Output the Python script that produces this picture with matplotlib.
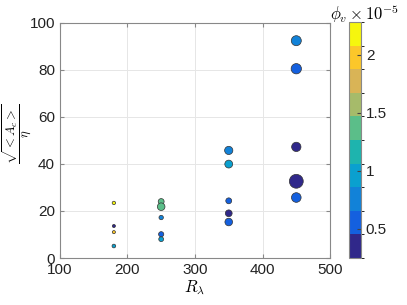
import numpy as np
import matplotlib.pyplot as plt
from matplotlib.colors import ListedColormap, BoundaryNorm

plt.rcParams['font.family'] = ['Liberation Sans', 'DejaVu Sans']
plt.rcParams['mathtext.fontset'] = 'cm'

# data
R_lambda = [180, 180, 180, 180,
            250, 250, 250, 250, 250,
            350, 350, 350, 350, 350,
            450, 450, 450, 450, 450]
A_eta = [23.4, 13.6, 11.0, 5.1,
         24.0, 21.8, 17.2, 10.1, 8.0,
         45.7, 39.9, 24.3, 19.0, 15.3,
         92.3, 80.4, 47.2, 32.6, 25.7]
phi_v = [2.2, 0.3, 1.9, 0.9,
         1.4, 1.4, 0.8, 0.6, 1.0,
         0.75, 1.0, 0.6, 0.35, 0.6,
         0.75, 0.6, 0.35, 0.35, 0.6]
msize = [6, 5, 5, 7,
         18, 30, 10, 14, 12,
         35, 32, 18, 24, 30,
         52, 55, 45, 100, 48]

# parula, 10 levels
parula10 = ['#30288a', '#1460df', '#1282d8', '#0aa0cf', '#1eb4ae',
            '#5bbe89', '#a6bb6a', '#d9b456', '#fcc72a', '#f6f60e']
cmap = ListedColormap(parula10)
cmin, cmax = 0.25, 2.28
norm = BoundaryNorm(np.linspace(cmin, cmax, 11), cmap.N)

fig = plt.figure(figsize=(4.07, 3.05), dpi=100)
ax = fig.add_axes([0.147, 0.154, 0.664, 0.772])
cax = fig.add_axes([0.858, 0.154, 0.029, 0.774])

sc = ax.scatter(R_lambda, A_eta, s=msize, c=phi_v, cmap=cmap, norm=norm,
                edgecolors='#333333', linewidths=0.5, zorder=3)

ax.set_xlim(100, 500)
ax.set_ylim(0, 100)
ax.set_xticks([100, 200, 300, 400, 500])
ax.set_yticks([0, 20, 40, 60, 80, 100])
ax.grid(True, color='#e6e6e6', linewidth=0.7)
ax.set_axisbelow(True)
for sp in ax.spines.values():
    sp.set_color('#888888')
    sp.set_linewidth(0.8)
ax.tick_params(direction='in', length=3, color='#888888', labelsize=11,
               labelcolor='#222222', top=True, right=True)
ax.set_xlabel(r'$R_\lambda$', fontsize=12, labelpad=1)
fig.text(0.042, 0.56, r'$\frac{\sqrt{<A_c>}}{\eta}$', fontsize=13,
         rotation=90, ha='center', va='center')

cb = fig.colorbar(sc, cax=cax, ticks=[0.5, 1, 1.5, 2])
cb.set_ticklabels(['0.5', '1', '1.5', '2'])
cb.outline.set_edgecolor('#888888')
cb.outline.set_linewidth(0.8)
cax.tick_params(direction='in', length=3, color='#444444', labelsize=11,
                labelcolor='#222222')
fig.text(0.895, 0.955, r'$\phi_v \times 10^{-5}$', fontsize=12,
         ha='center', va='center')

fig.savefig('out.png', dpi=100)
